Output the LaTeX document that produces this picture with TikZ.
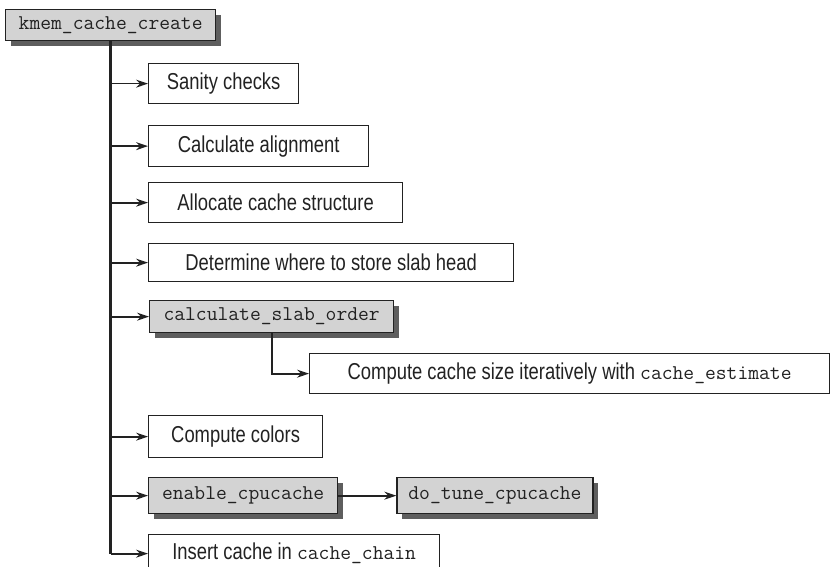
\documentclass[tikz,border=0pt]{standalone}
\usepackage{fontspec}
\newfontfamily\labelfont[FakeStretch=0.8]{Liberation Sans}
\usepackage{tikz}
\usetikzlibrary{positioning, arrows.meta, shadows}
\definecolor{boxgray}{HTML}{D3D3D3}
\definecolor{shade}{HTML}{5E5E5E}
\definecolor{ink}{HTML}{222222}
\newcommand{\code}[1]{{\ttfamily\fontsize{21}{25}\selectfont #1}}

\begin{document}
\begin{tikzpicture}[x=1pt, y=-1pt,
  node distance=58pt,
  font=\labelfont\fontsize{23}{27}\selectfont, color=ink,
  plain/.style={draw=ink, line width=1.3pt, fill=white, anchor=north west, inner sep=0pt},
  func/.style={plain, fill=boxgray, font=\ttfamily\fontsize{21}{25}\selectfont,
    drop shadow={shadow xshift=5pt, shadow yshift=-5pt, fill=shade, opacity=1}},
  arr/.style={-{Stealth[length=12pt, width=8pt, inset=4pt]}, line width=1.7pt},
  trunk/.style={line width=2.8pt}
]
\clip (0,0) rectangle (830,567);
\node[func, minimum width=210pt, minimum height=31pt] (kmem) at (5,9) {kmem\_cache\_create};
\node[plain, minimum width=150pt, minimum height=40pt] (sanity) at (148,63) {Sanity checks};
\node[plain, minimum width=220pt, minimum height=41pt] (align) at (148,125) {Calculate alignment};
\node[plain, minimum width=254pt, minimum height=40pt] (alloc) at (148,182) {Allocate cache structure};
\node[plain, minimum width=365pt, minimum height=38pt] (where) at (148,243) {Determine where to store slab head};
\node[func, minimum width=244pt, minimum height=32pt] (slab) at (149,300) {calculate\_slab\_order};
\node[plain, minimum width=520pt, minimum height=40pt] (estimate) at (309,353) {Compute cache size iteratively with \code{cache\_estimate}};
\node[plain, minimum width=174pt, minimum height=42pt] (colors) at (148,415) {Compute colors};
\node[func, minimum width=189pt, minimum height=36pt] (cpu) at (148,477) {enable\_cpucache};
\node[func, minimum width=196pt, minimum height=36pt, anchor=west, right=of cpu] (tune) {do\_tune\_cpucache};
\node[plain, minimum width=291pt, minimum height=38pt] (chain) at (148,534) {Insert cache in \code{cache\_chain}};

\draw[trunk] (kmem.south) -- (kmem.south |- chain.west);
\foreach \n in {sanity, align, alloc, where, slab, colors, cpu, chain}
  \draw[arr] (kmem.south |- \n.west) -- (\n.west);
\draw[arr, line width=1.9pt] (slab.south) |- (estimate.west);
\draw[arr] (cpu) -- (tune);
\end{tikzpicture}
\end{document}
